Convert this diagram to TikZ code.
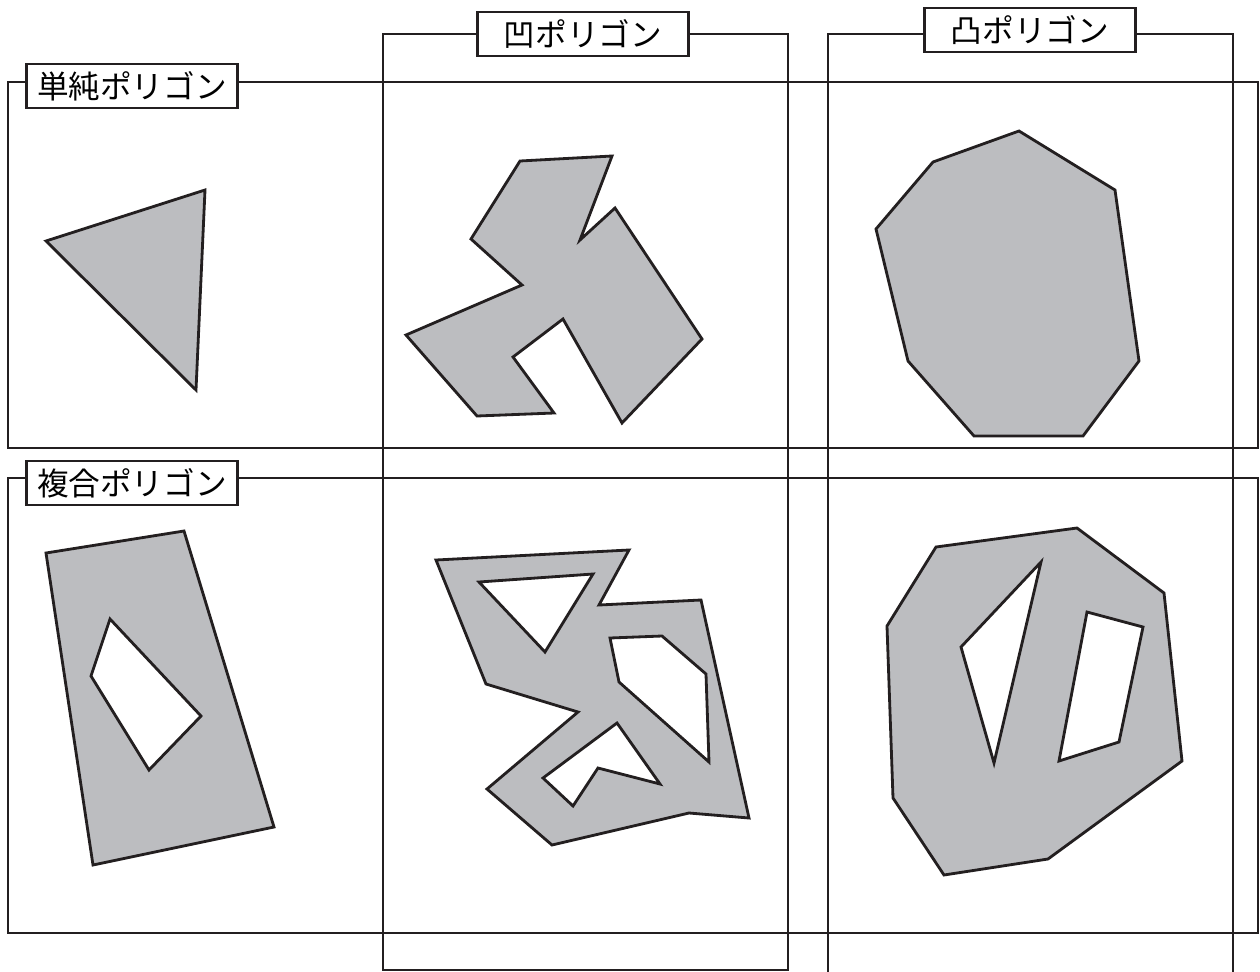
\documentclass[tikz,border=0pt]{standalone}
\usepackage{fontspec}
\setmainfont{Noto Sans CJK JP}
\definecolor{polyg}{HTML}{BCBDC0}
\definecolor{ln}{HTML}{231F20}
\tikzset{
  frame/.style={draw=ln,line width=1.6pt},
  lbl/.style={draw=ln,line width=1.6pt,fill=white,minimum width=42.2mm,minimum height=8.8mm,inner sep=0pt,font=\fontsize{18}{20}\selectfont},
  shp/.style={draw=ln,line width=1.6pt,fill=polyg,even odd rule,line join=miter},
}
\begin{document}
\begin{tikzpicture}[x=0.2mm,y=-0.2mm]
\fill[white] (0,0) rectangle (1260,971);
\useasboundingbox (0,0) rectangle (1260,971);
\clip (0,0) rectangle (1260,971);
\draw[frame] (8,82) rectangle (1258,448);
\draw[frame] (8,478) rectangle (1258,933);
\draw[frame] (383,34) rectangle (788,970);
\draw[frame] (828,34) rectangle (1233,995);
\node[lbl] (simple) at (132,86) {単純ポリゴン};
\node[lbl] (multi) at (132,483) {複合ポリゴン};
\node[lbl] (concave) at (583,34) {凹ポリゴン};
\node[lbl] (convex) at (1030,30) {凸ポリゴン};
\draw[shp] (46,241) -- (205,190) -- (196,390) -- cycle;
\draw[shp] (520,161) -- (612,156) -- (580,240) -- (615,208) -- (702,339) -- (622,423) -- (563,319) -- (513,357) -- (554,413) -- (477,416) -- (406,335) -- (522,285) -- (471,239) -- cycle;
\draw[shp] (1019,131) -- (1115,190) -- (1139,361) -- (1083,436) -- (974,436) -- (908,361) -- (876,229) -- (933,162) -- cycle;
\draw[shp] (46,553) -- (184,531) -- (274,827) -- (93,865) -- cycle
  (110,619) -- (201,716) -- (149,770) -- (91,676) -- cycle;
\draw[shp] (436,560) -- (629,550) -- (599,605) -- (701,600) -- (749,818) -- (689,813) -- (552,845) -- (487,789) -- (578,712) -- (486,684) -- cycle
  (479,582) -- (593,574) -- (545,652) -- cycle
  (610,638) -- (662,636) -- (706,674) -- (709,762) -- (619,682) -- cycle
  (617,723) -- (660,784) -- (598,768) -- (573,806) -- (543,778) -- cycle;
\draw[shp] (936,547) -- (1077,528) -- (1164,593) -- (1182,761) -- (1048,859) -- (944,875) -- (893,798) -- (887,626) -- cycle
  (1041,562) -- (994,763) -- (961,647) -- cycle
  (1087,612) -- (1143,627) -- (1119,742) -- (1059,761) -- cycle;
\end{tikzpicture}
\end{document}
